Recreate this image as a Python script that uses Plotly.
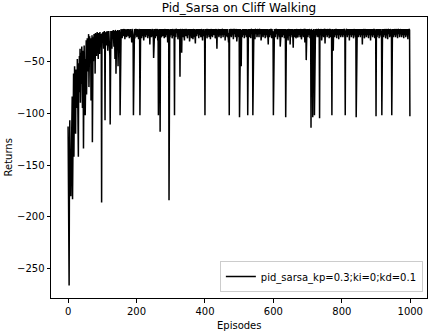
import plotly.graph_objects as go

title_text = "Pid_Sarsa on Cliff Walking"
series_name = "pid_sarsa_kp=0.3;ki=0;kd=0.1"
x_ticks = [0, 200, 400, 600, 800, 1000]
y_ticks = [-250, -200, -150, -100, -50]

returns = [
    -113, -197, -138, -266, -152, -107, -165, -135, -180, -142, -120, -95, -84, -183, -76, -110, -62, -142, -88, -55, -98, -70, -120, -58, -86,
    -60, -95, -48, -75, -118, -142, -52, -80, -45, -66, -38, -90, -50, -42, -72, -36, -58, -95, -40, -62, -134, -44, -35, -70, -48,
    -102, -38, -55, -30, -82, -42, -28, -60, -35, -48, -24, -75, -32, -26, -52, -38, -28, -88, -30, -45, -25, -128, -34, -27, -50,
    -30, -24, -40, -26, -62, -23, -35, -28, -45, -24, -22, -38, -27, -48, -23, -30, -25, -43, -22, -28, -35, -24, -40, -186, -26,
    -23, -32, -22, -27, -38, -24, -21, -30, -107, -23, -26, -22, -35, -24, -21, -28, -40, -22, -25, -21, -30, -23, -45, -111, -22,
    -21, -26, -23, -38, -21, -22, -28, -20, -24, -36, -21, -23, -48, -20, -22, -62, -25, -21, -38, -22, -20, -55, -24, -21, -30,
    -20, -25, -102, -21, -27, -19, -24, -20, -28, -22, -19, -26, -20, -24, -19, -23, -29, -20, -25, -19, -22, -27, -20, -24, -19,
    -22, -26, -19, -24, -28, -20, -23, -19, -27, -21, -25, -32, -19, -24, -20, -26, -102, -20, -23, -19, -28, -21, -25, -19, -22,
    -20, -27, -19, -24, -22, -20, -29, -19, -25, -21, -102, -23, -19, -26, -20, -28, -19, -24, -21, -26, -19, -30, -20, -25, -19,
    -23, -20, -27, -19, -25, -21, -24, -19, -28, -20, -26, -19, -23, -21, -34, -19, -25, -20, -23, -27, -19, -22, -26, -19, -24,
    -47, -21, -25, -19, -23, -28, -20, -19, -26, -21, -24, -19, -30, -20, -102, -25, -19, -23, -21, -118, -19, -26, -20, -27, -19,
    -23, -20, -26, -19, -25, -21, -28, -19, -24, -20, -27, -19, -25, -21, -23, -19, -32, -20, -26, -19, -184, -22, -20, -27, -19,
    -25, -20, -23, -19, -28, -21, -24, -19, -26, -20, -25, -102, -19, -23, -21, -27, -19, -25, -20, -23, -19, -29, -21, -24, -19,
    -23, -20, -65, -19, -25, -21, -27, -42, -19, -24, -20, -27, -19, -25, -21, -30, -19, -23, -20, -26, -19, -24, -21, -23, -28,
    -19, -25, -20, -23, -19, -31, -21, -26, -19, -24, -20, -28, -19, -25, -21, -29, -19, -23, -20, -27, -19, -25, -33, -20, -24,
    -19, -26, -20, -24, -19, -23, -21, -28, -19, -25, -20, -23, -19, -27, -21, -25, -19, -24, -30, -20, -26, -19, -23, -21, -27,
    -102, -19, -25, -20, -23, -19, -28, -21, -25, -19, -24, -20, -27, -19, -25, -21, -29, -19, -23, -20, -26, -19, -27, -21, -24,
    -19, -25, -20, -23, -19, -28, -21, -26, -19, -24, -38, -20, -25, -19, -23, -21, -27, -19, -25, -20, -24, -19, -28, -21, -25,
    -19, -24, -20, -27, -19, -25, -21, -23, -19, -30, -20, -26, -19, -24, -21, -27, -19, -25, -20, -32, -23, -102, -19, -26, -20,
    -24, -19, -27, -20, -25, -19, -23, -21, -29, -19, -25, -20, -24, -19, -27, -21, -25, -19, -31, -20, -24, -19, -26, -21, -27,
    -19, -104, -20, -25, -19, -32, -55, -23, -20, -27, -19, -25, -21, -24, -19, -28, -20, -25, -19, -23, -21, -27, -19, -25, -20,
    -102, -24, -19, -26, -20, -27, -19, -23, -21, -28, -19, -25, -20, -24, -19, -102, -21, -25, -19, -23, -20, -29, -19, -26, -20,
    -24, -19, -27, -20, -25, -19, -23, -21, -27, -19, -25, -20, -24, -19, -30, -21, -25, -19, -23, -20, -27, -19, -25, -21, -24,
    -19, -28, -20, -25, -19, -23, -21, -27, -19, -25, -34, -20, -24, -19, -27, -21, -25, -19, -23, -20, -28, -19, -25, -21, -24,
    -102, -20, -25, -19, -23, -21, -27, -19, -25, -20, -24, -19, -29, -21, -25, -19, -23, -20, -27, -19, -36, -21, -25, -19, -24,
    -20, -27, -19, -25, -21, -23, -19, -28, -20, -25, -19, -104, -24, -20, -27, -19, -25, -21, -30, -19, -24, -20, -26, -19, -34,
    -20, -25, -19, -24, -21, -27, -19, -25, -37, -20, -23, -19, -27, -21, -25, -19, -28, -20, -24, -19, -26, -21, -27, -19, -24,
    -20, -25, -19, -27, -21, -24, -19, -29, -20, -25, -19, -23, -21, -27, -19, -25, -20, -32, -19, -24, -21, -49, -25, -19, -23,
    -20, -27, -19, -25, -21, -24, -19, -28, -20, -25, -114, -19, -24, -21, -27, -104, -20, -25, -19, -23, -102, -21, -25, -19, -27,
    -20, -24, -19, -25, -21, -27, -19, -23, -20, -28, -105, -19, -25, -21, -24, -19, -30, -20, -25, -19, -23, -21, -27, -19, -25,
    -20, -33, -19, -24, -21, -25, -19, -27, -20, -23, -19, -25, -21, -28, -19, -24, -20, -27, -19, -25, -21, -102, -23, -19, -26,
    -40, -20, -24, -19, -27, -21, -25, -19, -23, -20, -28, -19, -25, -21, -24, -19, -29, -20, -25, -19, -23, -21, -27, -19, -25,
    -20, -24, -19, -27, -21, -25, -19, -23, -20, -28, -102, -21, -25, -19, -24, -20, -27, -19, -25, -21, -23, -19, -30, -20, -25,
    -19, -24, -21, -27, -19, -25, -20, -23, -19, -28, -21, -25, -19, -24, -20, -27, -19, -104, -21, -25, -19, -23, -20, -27, -19,
    -25, -21, -24, -19, -27, -20, -25, -19, -23, -21, -34, -19, -25, -20, -24, -19, -28, -21, -25, -19, -23, -20, -27, -19, -25,
    -21, -24, -19, -28, -20, -25, -19, -23, -21, -30, -19, -25, -20, -24, -19, -27, -21, -25, -19, -23, -20, -28, -19, -25, -21,
    -103, -24, -19, -27, -20, -25, -19, -23, -21, -28, -19, -25, -20, -24, -19, -27, -21, -102, -25, -19, -23, -20, -27, -19, -25,
    -21, -24, -19, -28, -20, -25, -19, -23, -21, -29, -19, -25, -20, -24, -19, -27, -21, -25, -19, -23, -20, -102, -25, -19, -24,
    -20, -27, -19, -25, -21, -24, -19, -27, -20, -25, -19, -23, -21, -28, -19, -25, -20, -24, -19, -27, -21, -25, -19, -23, -20,
    -27, -19, -25, -21, -24, -19, -28, -20, -25, -19, -23, -21, -27, -19, -25, -20, -24, -19, -29, -21, -25, -19, -23, -20, -103,
]
episodes = list(range(len(returns)))

FONT = "DejaVu Sans"

fig = go.Figure()
fig.add_trace(go.Scatter(
    x=episodes, y=returns, mode="lines", name=series_name,
    line=dict(color="black", width=1.5),
))

fig.update_layout(
    width=430, height=332,
    margin=dict(l=51, r=3, t=17, b=34),
    paper_bgcolor="white", plot_bgcolor="white",
    font=dict(family=FONT, size=10, color="black"),
    showlegend=True,
    legend=dict(
        x=0.989, y=0.021, xanchor="right", yanchor="bottom",
        bgcolor="white", bordercolor="#cccccc", borderwidth=1,
        font=dict(family=FONT, size=10, color="black"),
        tracegroupgap=0, itemwidth=30,
    ),
    title=dict(text=title_text, x=0.5, xref="paper", y=1 - 8 / 332, yref="container",
               yanchor="middle", xanchor="center", font=dict(family=FONT, size=12, color="black")),
)

axis_common = dict(
    showgrid=False, zeroline=False, showline=True, mirror=True,
    linecolor="black", linewidth=1, ticks="outside", ticklen=3.5, tickwidth=1,
    tickcolor="black", tickfont=dict(family=FONT, size=10, color="black"),
)
fig.update_xaxes(range=[-49.95, 1048.95], tickvals=x_ticks, **axis_common)
fig.update_yaxes(range=[-278, -7.5], tickvals=y_ticks, **axis_common)

fig.add_annotation(text="Episodes", xref="paper", yref="paper", x=0.5, y=-27 / 281,
                   showarrow=False, yanchor="middle",
                   font=dict(family=FONT, size=10, color="black"))
fig.add_annotation(text="Returns", xref="paper", yref="paper", x=-43 / 376, y=0.5,
                   textangle=-90, showarrow=False, xanchor="center",
                   font=dict(family=FONT, size=10, color="black"))

fig.write_html(
    "out.html",
    config={"displayModeBar": False},
    post_script="document.body.style.margin='0';document.body.style.overflow='hidden';",
)
